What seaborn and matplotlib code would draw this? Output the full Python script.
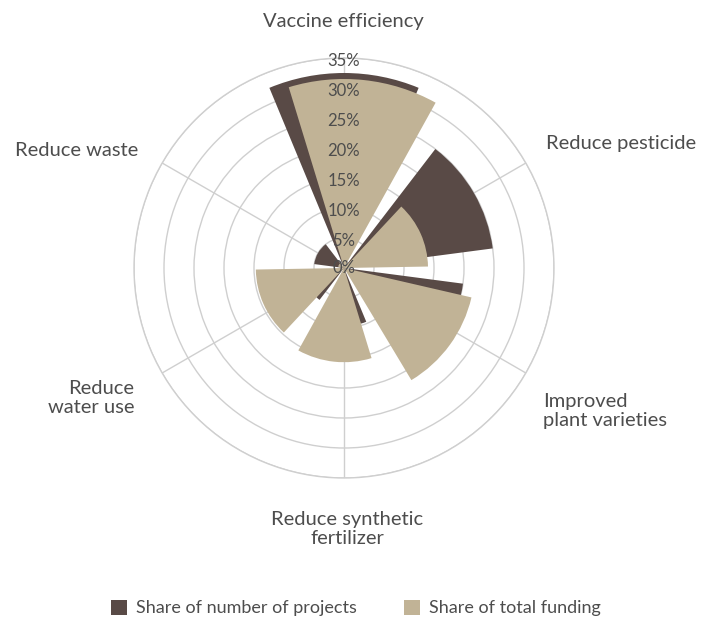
import numpy as np
import matplotlib
matplotlib.use("Agg")
import matplotlib.pyplot as plt
from matplotlib.patches import Patch
import seaborn as sns

# Data (percent)
categories = ["Vaccine efficiency", "Reduce pesticide", "Improved plant varieties",
              "Reduce synthetic fertilizer", "Reduce water use", "Reduce waste"]
share_projects = [32.5, 25.0, 20.0, 9.7, 6.7, 5.0]
share_funding = [31.5, 14.0, 21.8, 15.7, 14.7, 1.0]
radial_ticks = [0, 5, 10, 15, 20, 25, 30, 35]
series_names = ["Share of number of projects", "Share of total funding"]

DARK = "#594a46"
BEIGE = "#c1b396"
GRID = "#cfcfcf"
TEXT = "#4d4d4d"

sns.set_theme(style="white")
plt.rcParams["font.family"] = ["Lato", "DejaVu Sans"]

fig = plt.figure(figsize=(7.05, 6.19), dpi=100)
ax = fig.add_axes([134 / 705, 1 - 478 / 619, 420 / 705, 420 / 619], projection="polar")
ax.set_theta_zero_location("N")
ax.set_theta_direction(-1)

n = len(categories)
centers = np.deg2rad(np.arange(n) * 360 / n)
ax.bar(centers, share_projects, width=np.deg2rad(45), color=DARK, linewidth=0, zorder=2)
ax.bar(centers + np.deg2rad(6), share_funding, width=np.deg2rad(46), color=BEIGE,
       linewidth=0, zorder=3)

ax.set_ylim(0, radial_ticks[-1])
ax.set_yticks(radial_ticks[1:])
ax.set_yticklabels([])
ax.set_xticks(centers)
ax.set_xticklabels([])
ax.grid(True, color=GRID, linewidth=1.0, zorder=0)
ax.spines["polar"].set_color(GRID)
ax.spines["polar"].set_linewidth(1.0)
ax.set_axisbelow(True)

for t in radial_ticks:
    ax.text(0, max(t - 0.55, 0.0), f"{t}%", ha="center", va="center", fontsize=12,
            color=TEXT, zorder=5)

# Category labels around the wheel
fs = 14.5
fig.text(343 / 705, 1 - 22 / 619, "Vaccine efficiency", ha="center", va="center", fontsize=fs, color=TEXT)
fig.text(546 / 705, 1 - 144 / 619, "Reduce pesticide", ha="left", va="center", fontsize=fs, color=TEXT)
fig.text(543 / 705, 1 - 411 / 619, "Improved\nplant varieties", ha="left", va="center", fontsize=fs,
         color=TEXT, linespacing=1.1)
fig.text(347 / 705, 1 - 529 / 619, "Reduce synthetic\nfertilizer", ha="center", va="center", fontsize=fs,
         color=TEXT, linespacing=1.1, multialignment="center")
fig.text(134 / 705, 1 - 398 / 619, "Reduce\nwater use", ha="right", va="center", fontsize=fs,
         color=TEXT, linespacing=1.1, multialignment="right")
fig.text(138 / 705, 1 - 150 / 619, "Reduce waste", ha="right", va="center", fontsize=fs, color=TEXT)

handles = [Patch(facecolor=DARK, edgecolor="none"), Patch(facecolor=BEIGE, edgecolor="none")]
fig.legend(handles, series_names, loc="center", bbox_to_anchor=(356 / 705, 1 - 608 / 619),
           ncol=2, frameon=False, fontsize=13, handlelength=0.9, handleheight=0.9,
           handletextpad=0.5, columnspacing=2.6, labelcolor=TEXT)

fig.savefig("out.png", dpi=100, facecolor="white")
